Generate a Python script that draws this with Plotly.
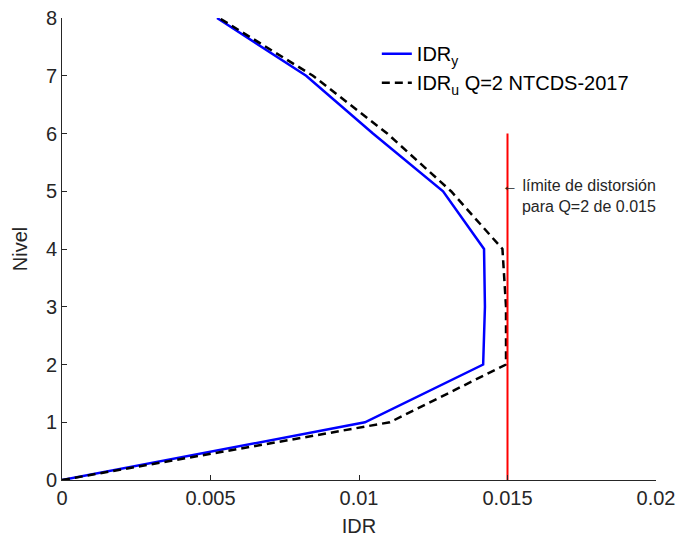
import plotly.graph_objects as go

niveles = [0, 1, 2, 3, 4, 5, 6, 7, 8]
idr_y = [0, 0.0102, 0.01418, 0.01424, 0.01421, 0.01283, 0.01047, 0.00822, 0.00522]
idr_u = [0, 0.01104, 0.01495, 0.01495, 0.01483, 0.0131, 0.01095, 0.00845, 0.00529]
limite_x = [0.015, 0.015]
limite_y = [0, 6]
x_ticks = [0, 0.005, 0.01, 0.015, 0.02]
x_ticklabels = ["0", "0.005", "0.01", "0.015", "0.02"]
y_ticks = [0, 1, 2, 3, 4, 5, 6, 7, 8]

font = "Liberation Sans, Arial, sans-serif"
axcol = "#262626"

fig = go.Figure()
fig.add_trace(go.Scatter(x=idr_y, y=niveles, mode="lines", name="IDR<sub>y</sub>",
                         line=dict(color="#0000ff", width=2.5)))
fig.add_trace(go.Scatter(x=idr_u, y=niveles, mode="lines", name="IDR<sub>u</sub> Q=2 NTCDS-2017",
                         line=dict(color="black", width=2.5, dash="8px,5px")))
fig.add_trace(go.Scatter(x=limite_x, y=limite_y, mode="lines", showlegend=False,
                         line=dict(color="#ff0000", width=2)))

fig.add_annotation(x=1.003, xref="paper", y=4.92, yref="y", xanchor="right", yanchor="middle",
                   text="← límite de distorsión<br>para Q=2 de 0.015", showarrow=False,
                   align="right", font=dict(size=16, color="#262626", family=font))

fig.update_layout(
    width=678, height=546,
    margin=dict(l=62, r=22, t=18, b=66),
    paper_bgcolor="white", plot_bgcolor="white",
    font=dict(family=font, size=20, color=axcol),
    showlegend=True,
    legend=dict(x=0.53, y=0.965, xanchor="left", yanchor="top", bgcolor="rgba(0,0,0,0)",
                font=dict(size=20, color="black"), tracegroupgap=0),
    xaxis=dict(range=[0, 0.02], tickvals=x_ticks, ticktext=x_ticklabels, automargin=False,
               showgrid=False, zeroline=False, showline=True, linecolor=axcol, linewidth=1,
               ticks="inside", ticklen=5, tickcolor=axcol, tickfont=dict(size=20),
               title=dict(text="IDR", font=dict(size=20), standoff=10)),
    yaxis=dict(range=[0, 8], tickvals=y_ticks, automargin=False,
               showgrid=False, zeroline=False, showline=True, linecolor=axcol, linewidth=1,
               ticks="inside", ticklen=5, tickcolor=axcol, tickfont=dict(size=20),
               title=dict(text="Nivel", font=dict(size=20), standoff=12)),
)

fig.write_html("out.html")
